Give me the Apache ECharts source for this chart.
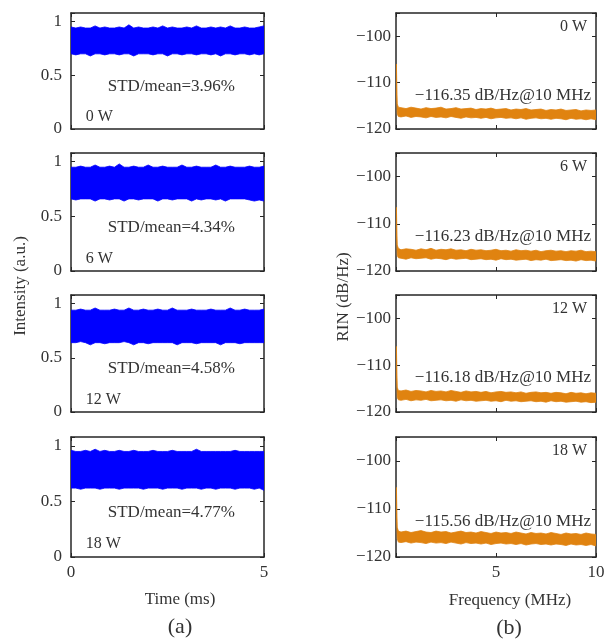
<!DOCTYPE html>
<html>
<head>
<meta charset="utf-8">
<script src="https://cdn.jsdelivr.net/npm/echarts@6/dist/echarts.min.js"></script>
<style>
  html, body { margin: 0; padding: 0; background: #fff; }
  #main { width: 612px; height: 639px; }
</style>
</head>
<body>
<div id="main"></div>
<script>
// labels
const powers = ['0 W', '6 W', '12 W', '18 W'];
const stdRatio = ['3.96', '4.34', '4.58', '4.77'];
const rinAt10 = ['−116.35', '−116.23', '−116.18', '−115.56'];

// (a) intensity trace envelopes, time in ms
const timeMs = [0,0.125,0.25,0.375,0.5,0.625,0.75,0.875,1,1.125,1.25,1.375,1.5,1.625,1.75,1.875,2,2.125,2.25,2.375,2.5,2.625,2.75,2.875,3,3.125,3.25,3.375,3.5,3.625,3.75,3.875,4,4.125,4.25,4.375,4.5,4.625,4.75,4.875,5];
const intUp0 = [0.95,0.94,0.95,0.94,0.94,0.96,0.94,0.95,0.94,0.94,0.95,0.94,0.97,0.94,0.95,0.94,0.94,0.95,0.94,0.96,0.94,0.95,0.94,0.94,0.95,0.94,0.96,0.94,0.94,0.95,0.94,0.95,0.94,0.96,0.94,0.94,0.95,0.94,0.94,0.95,0.96];
const intLo0 = [0.70,0.69,0.70,0.70,0.68,0.70,0.70,0.69,0.70,0.70,0.69,0.70,0.70,0.68,0.70,0.70,0.70,0.69,0.70,0.70,0.68,0.70,0.70,0.69,0.70,0.70,0.69,0.70,0.70,0.69,0.70,0.68,0.70,0.70,0.69,0.70,0.70,0.69,0.70,0.69,0.70];
const intUp6 = [0.95,0.95,0.96,0.95,0.95,0.97,0.95,0.95,0.96,0.95,0.98,0.95,0.95,0.96,0.95,0.95,0.97,0.95,0.95,0.96,0.95,0.95,0.95,0.97,0.95,0.95,0.96,0.95,0.95,0.95,0.97,0.95,0.95,0.96,0.95,0.95,0.95,0.96,0.95,0.95,0.96];
const intLo6 = [0.66,0.65,0.66,0.66,0.66,0.64,0.66,0.66,0.65,0.66,0.66,0.64,0.66,0.66,0.65,0.66,0.66,0.66,0.64,0.66,0.66,0.65,0.66,0.66,0.66,0.64,0.66,0.65,0.66,0.66,0.65,0.66,0.64,0.66,0.66,0.66,0.66,0.65,0.64,0.65,0.64];
const intUp12 = [0.94,0.94,0.95,0.94,0.94,0.96,0.94,0.94,0.94,0.95,0.94,0.94,0.96,0.94,0.94,0.95,0.94,0.94,0.95,0.94,0.94,0.96,0.94,0.94,0.94,0.95,0.94,0.94,0.94,0.95,0.94,0.94,0.94,0.96,0.94,0.94,0.95,0.94,0.94,0.94,0.95];
const intLo12 = [0.64,0.64,0.65,0.64,0.62,0.64,0.64,0.63,0.64,0.64,0.64,0.65,0.64,0.62,0.64,0.64,0.63,0.64,0.64,0.64,0.64,0.64,0.62,0.64,0.64,0.64,0.63,0.64,0.64,0.64,0.64,0.62,0.64,0.64,0.64,0.63,0.64,0.64,0.64,0.64,0.64];
const intUp18 = [0.96,0.95,0.95,0.96,0.95,0.97,0.95,0.96,0.95,0.95,0.96,0.95,0.95,0.96,0.95,0.95,0.95,0.96,0.95,0.95,0.95,0.96,0.95,0.95,0.95,0.95,0.97,0.95,0.95,0.95,0.95,0.95,0.95,0.95,0.96,0.95,0.95,0.95,0.95,0.95,0.95];
const intLo18 = [0.62,0.62,0.61,0.62,0.62,0.62,0.61,0.62,0.62,0.62,0.61,0.62,0.62,0.62,0.62,0.61,0.62,0.62,0.62,0.61,0.62,0.62,0.62,0.61,0.62,0.62,0.62,0.61,0.62,0.62,0.61,0.62,0.62,0.62,0.61,0.62,0.62,0.62,0.61,0.62,0.60];

// (b) RIN spectrum envelopes, frequency in MHz
const freqMHz = [0.02,0.06,0.12,0.25,0.5,0.75,1,1.25,1.5,1.75,2,2.25,2.5,2.75,3,3.25,3.5,3.75,4,4.25,4.5,4.75,5,5.25,5.5,5.75,6,6.25,6.5,6.75,7,7.25,7.5,7.75,8,8.25,8.5,8.75,9,9.25,9.5,9.75,10];
const rinUp0 = [-106,-114.6,-115.3,-115.4,-115.6,-115.3,-115.5,-115.7,-115.4,-115.6,-115.5,-115.3,-115.7,-115.6,-115.4,-115.7,-115.6,-115.5,-115.8,-115.6,-115.7,-115.5,-115.8,-115.7,-115.6,-115.9,-115.7,-115.8,-115.6,-115.9,-115.8,-115.7,-116.0,-115.8,-115.9,-115.7,-116.0,-115.9,-115.8,-116.1,-115.9,-116.0,-115.9];
const rinLo0 = [-112,-116.8,-117.3,-117.4,-117.2,-117.5,-117.3,-117.4,-117.6,-117.3,-117.5,-117.4,-117.6,-117.3,-117.5,-117.7,-117.4,-117.6,-117.5,-117.7,-117.5,-117.8,-117.6,-117.5,-117.7,-117.6,-117.8,-117.6,-117.9,-117.7,-117.6,-117.8,-117.7,-117.9,-117.7,-117.8,-118.0,-117.7,-117.9,-117.8,-118.0,-117.8,-118.0];
const rinUp6 = [-106.5,-114.5,-115.2,-115.5,-115.3,-115.4,-115.6,-115.3,-115.5,-115.2,-115.6,-115.4,-115.5,-115.3,-115.6,-115.5,-115.7,-115.4,-115.6,-115.5,-115.7,-115.6,-115.4,-115.7,-115.6,-115.8,-115.5,-115.7,-115.6,-115.8,-115.6,-115.9,-115.7,-115.6,-115.8,-115.7,-115.9,-115.7,-115.8,-115.6,-115.9,-115.8,-115.9];
const rinLo6 = [-112,-116.7,-117.2,-117.3,-117.5,-117.2,-117.4,-117.3,-117.2,-117.5,-117.3,-117.4,-117.6,-117.3,-117.5,-117.4,-117.3,-117.6,-117.5,-117.4,-117.6,-117.5,-117.7,-117.4,-117.6,-117.5,-117.7,-117.6,-117.5,-117.8,-117.6,-117.7,-117.5,-117.8,-117.7,-117.6,-117.8,-117.7,-117.9,-117.6,-117.8,-117.7,-117.9];
const rinUp12 = [-106,-114.7,-115.4,-115.5,-115.3,-115.6,-115.4,-115.5,-115.7,-115.4,-115.6,-115.5,-115.7,-115.4,-115.6,-115.8,-115.5,-115.7,-115.6,-115.8,-115.6,-115.9,-115.7,-115.6,-115.8,-115.7,-115.9,-115.7,-116.0,-115.8,-115.7,-115.9,-115.8,-116.0,-115.8,-115.9,-116.1,-115.8,-116.0,-115.9,-116.1,-115.9,-116.0];
const rinLo12 = [-111.5,-116.9,-117.4,-117.5,-117.3,-117.6,-117.4,-117.5,-117.3,-117.6,-117.5,-117.4,-117.6,-117.5,-117.7,-117.4,-117.6,-117.5,-117.7,-117.6,-117.5,-117.7,-117.6,-117.8,-117.5,-117.7,-117.6,-117.8,-117.7,-117.6,-117.8,-117.7,-117.9,-117.6,-117.8,-117.7,-117.9,-117.8,-117.7,-117.9,-117.8,-118.0,-117.9];
const rinUp18 = [-105.5,-113.8,-114.6,-114.8,-114.6,-114.9,-114.7,-114.5,-114.8,-114.9,-114.6,-114.8,-114.7,-115.0,-114.8,-114.6,-114.9,-114.8,-115.0,-114.7,-114.9,-115.1,-114.8,-115.0,-114.9,-115.1,-114.8,-115.0,-115.2,-114.9,-115.1,-115.0,-115.2,-114.9,-115.1,-115.3,-115.0,-115.2,-115.1,-115.3,-115.0,-115.2,-115.3];
const rinLo18 = [-111,-116.2,-116.9,-117.0,-116.8,-117.1,-116.9,-117.0,-117.2,-116.9,-117.1,-117.0,-117.2,-116.9,-117.1,-117.3,-117.0,-117.2,-117.1,-117.3,-117.1,-117.4,-117.2,-117.1,-117.3,-117.2,-117.4,-117.2,-117.5,-117.3,-117.2,-117.4,-117.3,-117.5,-117.3,-117.4,-117.6,-117.3,-117.5,-117.4,-117.6,-117.4,-117.7];

const intUp = [intUp0, intUp6, intUp12, intUp18];
const intLo = [intLo0, intLo6, intLo12, intLo18];
const rinUp = [rinUp0, rinUp6, rinUp12, rinUp18];
const rinLo = [rinLo0, rinLo6, rinLo12, rinLo18];

const serif = 'Liberation Serif';
const ink = '#262626';
const txt = '#333';
const blue = '#0000ff';
const orange = '#e08310';

const tops = [13, 153, 295, 437];
const heights = [116, 118, 117, 120];

const grids = [], xAxes = [], yAxes = [], series = [];

function minus(v) {
  return v < 0 ? '−' + Math.abs(v) : String(v);
}

function addPanel(gi, left, width, xr, yr, yShow, xShow, xs, lo, up, color) {
  grids.push({ left: left, width: width, top: tops[gi % 4], height: heights[gi % 4] });
  const axisLine = { onZero: false, lineStyle: { color: ink, width: 1.5 } };
  const tick = { inside: true, length: 4, lineStyle: { color: ink, width: 1 } };
  const lab = { color: txt, fontFamily: serif, fontSize: 17 };
  const xi = xAxes.length;
  xAxes.push({
    type: 'value', gridIndex: gi, position: 'bottom', min: xr[0], max: xr[1], interval: 5,
    axisLine: axisLine, axisTick: tick, splitLine: { show: false },
    axisLabel: Object.assign({ show: xShow.length > 0, margin: 7,
      formatter: v => xShow.includes(v) ? String(v) : '' }, lab)
  });
  xAxes.push({
    type: 'value', gridIndex: gi, position: 'top', min: xr[0], max: xr[1], interval: 5,
    axisLine: axisLine, axisTick: tick, splitLine: { show: false }, axisLabel: { show: false }
  });
  const yi = yAxes.length;
  yAxes.push({
    type: 'value', gridIndex: gi, position: 'left', min: yr[0], max: yr[1], interval: yr[2],
    axisLine: axisLine, axisTick: tick, splitLine: { show: false },
    axisLabel: Object.assign({ margin: yr[3],
      formatter: v => yShow.includes(v) ? minus(v) : '' }, lab)
  });
  yAxes.push({
    type: 'value', gridIndex: gi, position: 'right', min: yr[0], max: yr[1], interval: yr[2],
    axisLine: axisLine, axisTick: tick, splitLine: { show: false }, axisLabel: { show: false }
  });
  // noise band: filled polygon between the lower and upper envelope
  series.push({
    type: 'custom', xAxisIndex: xi, yAxisIndex: yi, silent: true, clip: true,
    data: xs.map((x, k) => [x, lo[k], up[k]]),
    renderItem: function (params, api) {
      if (params.dataIndex !== 0) return null;
      const pts = [];
      for (let k = 0; k < xs.length; k++) pts.push(api.coord([xs[k], up[k]]));
      for (let k = xs.length - 1; k >= 0; k--) pts.push(api.coord([xs[k], lo[k]]));
      return {
        type: 'polygon',
        shape: { points: pts },
        style: { fill: color, stroke: color, lineWidth: 0.8 }
      };
    }
  });
}

for (let i = 0; i < 4; i++) {
  const last = i === 3;
  addPanel(i, 71, 193, [0, 5], [0, 1.08, 0.5, 9], [0, 0.5, 1], last ? [0, 5] : [],
    timeMs, intLo[i], intUp[i], blue);
}
for (let i = 0; i < 4; i++) {
  const last = i === 3;
  addPanel(4 + i, 396, 200, [0, 10], [-120, -95, 10, 5], [-120, -110, -100], last ? [5, 10] : [],
    freqMHz, rinLo[i], rinUp[i], orange);
}

const myChart = echarts.init(document.getElementById('main'));
myChart.setOption({
  animation: false,
  grid: grids,
  xAxis: xAxes,
  yAxis: yAxes,
  series: series
});

function label(text, p, align, size) {
  return {
    type: 'text', x: p[0], y: p[1], silent: true,
    style: { text: text, fill: txt, fontFamily: serif, fontSize: size || 17,
      align: align, verticalAlign: 'middle' }
  };
}

const g = [];
for (let i = 0; i < 4; i++) {
  g.push(label('STD/mean=' + stdRatio[i] + '%', myChart.convertToPixel({ gridIndex: i }, [2.6, 0.40]), 'center'));
  g.push(label(powers[i], myChart.convertToPixel({ gridIndex: i }, [0.38, 0.115]), 'left', 16));
  g.push(label(powers[i], myChart.convertToPixel({ gridIndex: 4 + i }, [9.55, -97.9]), 'right', 16));
  g.push(label(rinAt10[i] + ' dB/Hz@10 MHz', myChart.convertToPixel({ gridIndex: 4 + i }, [9.75, -112.7]), 'right'));
}
g.push(label('Time (ms)', [180, 600], 'center'));
g.push(label('Frequency (MHz)', [510, 601], 'center'));
g.push(label('(a)', [180, 627], 'center', 22));
g.push(label('(b)', [509, 628], 'center', 22));
g.push(Object.assign(label('Intensity (a.u.)', [0, 0], 'center'), { x: 21, y: 286, rotation: Math.PI / 2 }));
g.push(Object.assign(label('RIN (dB/Hz)', [0, 0], 'center'), { x: 344, y: 297, rotation: Math.PI / 2 }));

myChart.setOption({ graphic: g });
</script>
</body>
</html>
